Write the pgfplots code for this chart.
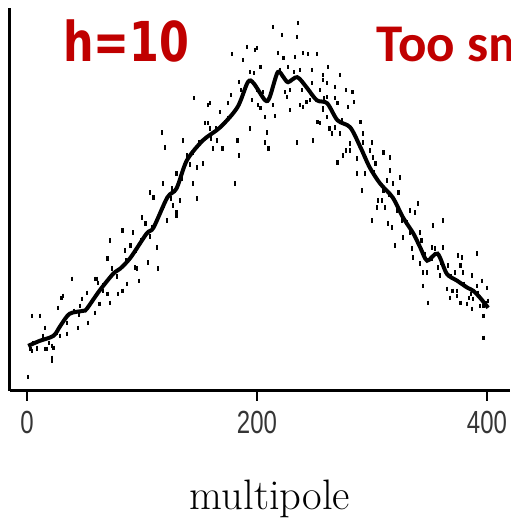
\documentclass[border=0pt]{standalone}
\usepackage{pgfplots}
\pgfplotsset{compat=1.18}
\usepackage{fontspec}
\newfontfamily\tickfont[FakeStretch=0.75]{Liberation Sans}
\newfontfamily\hfont[FakeStretch=0.78]{DejaVu Sans}
\newfontfamily\calfont{Carlito}
\definecolor{darkred}{HTML}{C00000}
\definecolor{tickgray}{HTML}{353535}

\begin{document}
\begin{tikzpicture}
\useasboundingbox (0,0) rectangle (255pt,259.5pt);
\clip (0,0) rectangle (255pt,259.5pt);
\begin{axis}[
    at={(5pt,64pt)}, anchor=south west,
    scale only axis, width=250pt, height=191.5pt,
    xmin=-14.8, xmax=420, ymin=0, ymax=382,
    axis x line*=bottom, axis y line*=left,
    axis line style={line width=1.5pt, -},
    xtick={0,200,400}, ytick=\empty,
    tick align=outside, major tick length=5pt,
    tick style={line width=1.2pt, black},
    /pgf/number format/assume math mode=true,
    xticklabel style={font=\tickfont\fontsize{16}{17}\selectfont, text=tickgray, yshift=-1.5pt},
    xlabel={multipole},
    xlabel style={font=\fontsize{21.3}{24}\selectfont, anchor=base, at={(rel axis cs:0.52,0)}, yshift=-59.5pt},
    clip=false,
]
% scattered points
\addplot[only marks, mark=|, mark size=1.1pt, mark options={line width=1.05pt}] coordinates {
(1,14) (4,75) (11,75) (16,63) (3,42) (9,42) (4,40) (17,42) (23,43) (22,33)
(22,30) (16,42) (9,43) (22,45) (27,83) (31,95) (39,112) (35,68) (44,63) (53,68)
(59,78) (46,85) (52,98) (61,112) (63,87) (72,88) (70,97) (79,97) (83,100) (87,107)
(96,122) (97,110) (105,128) (114,122) (70,132) (30,93) (29,55) (35,57) (48,92) (59,112)
(62,108) (66,100) (72,150) (74,122) (83,160) (85,140) (90,145) (92,158) (94,123) (100,173)
(103,167) (107,198) (109,163) (110,193) (113,143) (117,258) (120,243) (118,207) (122,170) (127,185)
(130,217) (130,175) (126,202) (133,190) (130,178) (136,250) (139,235) (144,238) (144,207) (148,223)
(153,227) (148,192) (145,292) (155,267) (157,267) (159,262) (159,287) (157,285) (165,250) (162,242)
(170,242) (168,278) (172,268) (175,287) (177,295) (183,250) (184,235) (181,207) (184,308) (178,336)
(188,330) (191,343) (200,342) (194,318) (197,317) (196,290) (201,285) (203,282) (207,273) (194,262)
(209,258) (207,248) (210,242) (203,323) (198,340) (214,363) (236,367) (222,355) (235,353) (218,337)
(223,332) (233,333) (240,337) (244,336) (252,336) (227,323) (237,320) (248,320) (257,315) (261,307)
(248,307) (224,298) (229,300) (226,293) (214,285) (216,274) (229,280) (237,285) (243,288) (257,280)
(261,273) (252,268) (235,248) (249,250) (262,323) (257,310) (272,315) (255,300) (268,303) (277,300)
(283,298) (246,290) (261,293) (268,292) (284,288) (279,283) (290,268) (253,268) (257,282) (240,283)
(268,263) (263,262) (270,287) (255,267) (265,257) (272,257) (292,257) (292,248) (281,247) (277,240)
(281,240) (275,235) (270,228) (287,232) (300,248) (298,240) (310,238) (301,233) (316,233) (303,227)
(294,217) (287,217) (316,220) (324,213) (313,210) (318,207) (291,200) (323,198) (305,190) (309,190)
(304,183) (311,183) (340,187) (333,180) (337,178) (300,170) (314,167) (317,163) (326,170) (353,165)
(362,170) (342,158) (327,153) (333,158) (343,150) (320,145) (352,143) (355,142) (362,143) (335,142)
(336,133) (375,135) (378,133) (391,137) (342,127) (344,118) (348,118) (357,123) (366,125) (377,125)
(359,115) (372,118) (379,118) (387,115) (396,110) (400,103) (391,105) (344,105) (365,102) (370,100)
(374,100) (368,93) (374,95) (377,88) (384,93) (383,87) (388,92) (387,82) (397,85) (401,90)
(349,88) (394,85) (397,75) (397,53)
(5,48) (14,55) (19,48) (26,58) (33,72) (41,80) (45,76) (56,88) (66,106) (78,114)
(86,130) (95,140) (99,150) (107,154) (115,175) (119,185) (125,192) (135,212) (142,226) (150,248)
(160,252) (164,262) (175,272) (180,278) (186,300) (200,300) (205,298) (215,305) (220,320) (232,318)
(239,300) (247,296) (258,292) (265,280) (274,270) (285,255) (295,232) (302,218) (310,200) (315,196)
(322,180) (330,168) (339,150) (346,136) (352,132) (360,128) (369,114) (380,107) (386,97) (392,98)
(399,88)
};
% smoothed curve
\addplot[black, line width=2pt, smooth, tension=0.5, no marks] coordinates {
(1,45) (11,50) (23,55) (29,65) (37,77) (49,80) (52,82) (63,100) (75,117) (81,122)
(90,133) (104,157) (110,163) (122,193) (130,202) (139,230) (153,250) (168,263) (183,283) (192,308)
(197,307) (207,290) (211,293) (218,318) (223,313) (227,308) (235,313) (243,303) (252,290) (261,287)
(270,270) (281,263) (290,243) (298,223) (307,207) (318,193) (327,173) (336,157) (342,143) (348,130)
(357,137) (365,117) (374,110) (383,103) (388,100) (394,93) (401,83)
};
\end{axis}
\node[anchor=base west, inner sep=0, text=darkred, font=\hfont\bfseries\fontsize{27.5}{28}\selectfont] at (31.5pt,228.5pt) {h=10};
\node[anchor=base west, inner sep=0, text=darkred, font=\calfont\bfseries\fontsize{26.5}{27}\selectfont] at (188pt,228.5pt) {Too small};
\end{tikzpicture}
\end{document}
